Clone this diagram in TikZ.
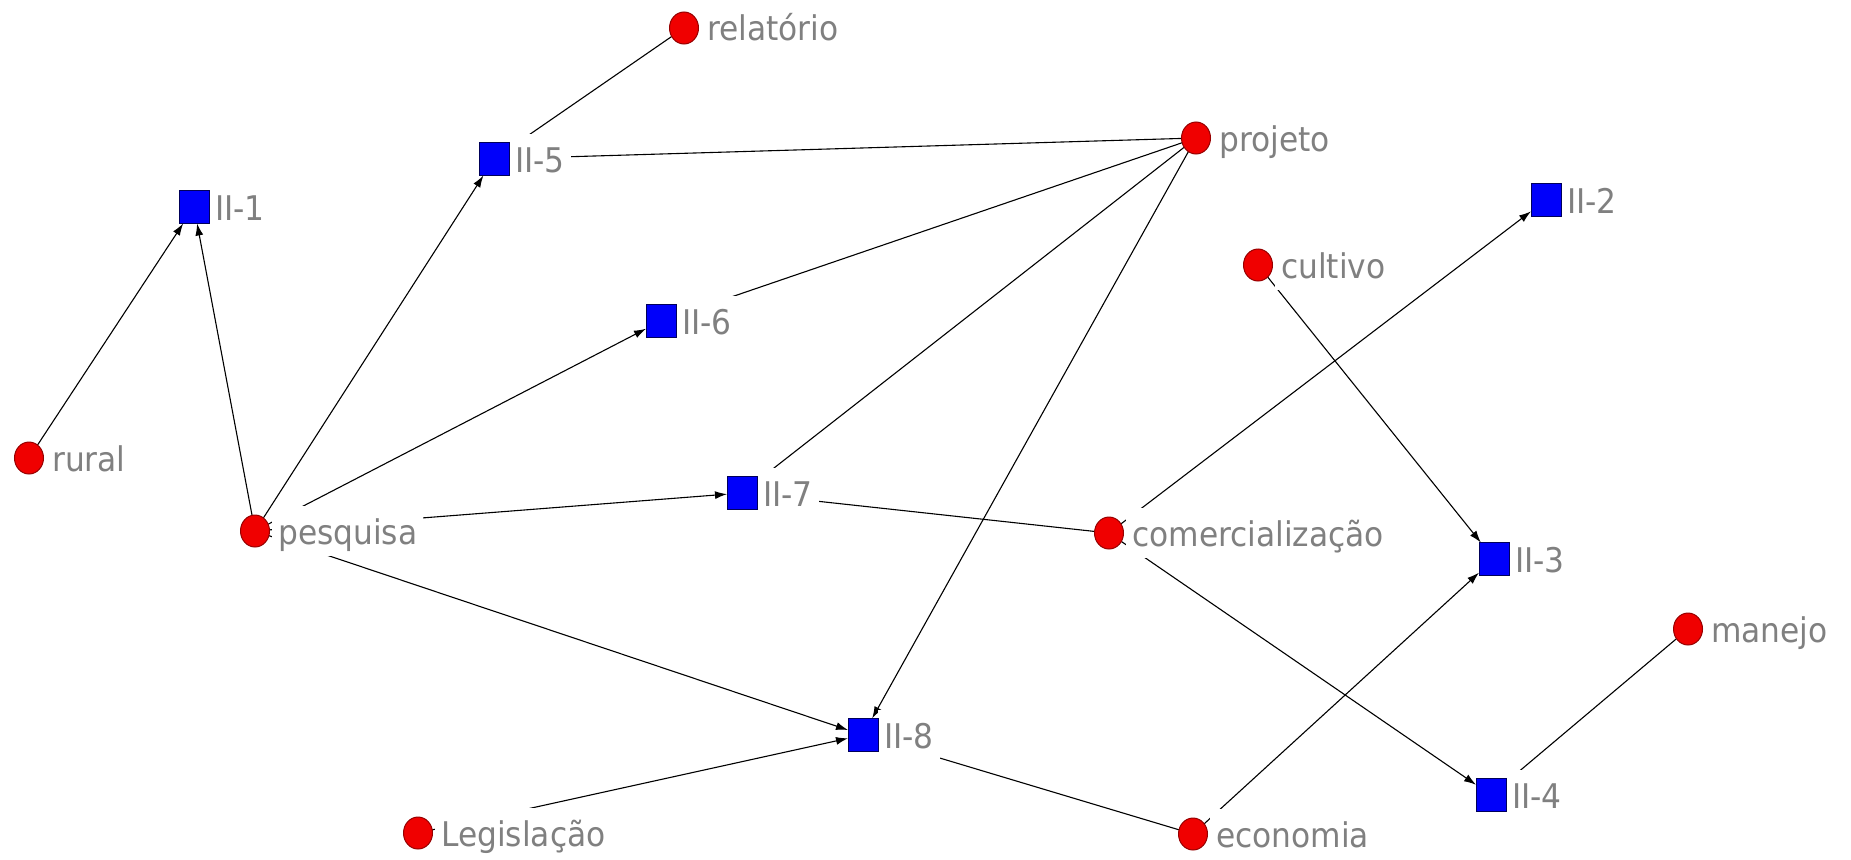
\documentclass[tikz,border=0pt]{standalone}
\usepackage{fontspec}
\newfontfamily\labfont{DejaVu Sans}[FakeStretch=0.92]
\usetikzlibrary{shapes.geometric,arrows.meta,backgrounds}
\definecolor{labgray}{RGB}{128,128,128}
\definecolor{cfill}{RGB}{240,0,0}
\definecolor{cdraw}{RGB}{150,0,0}
\definecolor{sfill}{RGB}{0,0,250}
\definecolor{sdraw}{RGB}{0,0,90}
\tikzset{
  circ/.style={ellipse, fill=cfill, draw=cdraw, line width=1pt, minimum width=29pt, minimum height=32pt, inner sep=0pt, outer sep=0pt},
  sq/.style={rectangle, fill=sfill, draw=sdraw, line width=1pt, minimum width=30pt, minimum height=33pt, inner sep=0pt, outer sep=0pt},
  lab/.style={anchor=west, fill=white, text=labgray, font=\labfont\fontsize{34}{34}\selectfont, text height=26pt, text depth=0pt, inner xsep=6pt, inner ysep=12pt},
  edge/.style={line width=1.1pt, black},
  arr/.style={edge, -{Latex[length=12pt,width=8pt]}},
}
\begin{document}
\begin{tikzpicture}[x=1pt,y=-1pt]
\useasboundingbox (0,0) rectangle (1851,859);
% labels
\node[lab] (relatorio-l) at (701,28) {relatório};
\node[lab] (projeto-l) at (1213,138) {projeto};
\node[lab] (cultivo-l) at (1275,265) {cultivo};
\node[lab] (rural-l) at (46,458) {rural};
\node[lab] (pesquisa-l) at (272,531) {pesquisa};
\node[lab] (comercializacao-l) at (1126,533) {comercialização};
\node[lab] (manejo-l) at (1705,629) {manejo};
\node[lab] (legislacao-l) at (435,833) {Legislação};
\node[lab] (economia-l) at (1210,834) {economia};
\node[lab] (ii1-l) at (209,207) {II-1};
\node[lab] (ii2-l) at (1561,200) {II-2};
\node[lab] (ii3-l) at (1509,559) {II-3};
\node[lab] (ii4-l) at (1506,795) {II-4};
\node[lab] (ii5-l) at (509,159) {II-5};
\node[lab] (ii6-l) at (676,321) {II-6};
\node[lab] (ii7-l) at (757,493) {II-7};
\node[lab] (ii8-l) at (878,735) {II-8};
% shapes
\node[circ] (relatorio) at (684,28) {};
\node[circ] (projeto) at (1196,138) {};
\node[circ] (cultivo) at (1258,265) {};
\node[circ] (rural) at (29,458) {};
\node[circ] (pesquisa) at (255,531) {};
\node[circ] (comercializacao) at (1109,533) {};
\node[circ] (manejo) at (1688,629) {};
\node[circ] (legislacao) at (418,833) {};
\node[circ] (economia) at (1193,834) {};
\node[sq] (ii1) at (194,207) {};
\node[sq] (ii2) at (1546,200) {};
\node[sq] (ii3) at (1494,559) {};
\node[sq] (ii4) at (1491,795) {};
\node[sq] (ii5) at (494,159) {};
\node[sq] (ii6) at (661,321) {};
\node[sq] (ii7) at (742,493) {};
\node[sq] (ii8) at (863,735) {};
% edges
\begin{pgfonlayer}{background}
\draw[arr] (rural) -- (ii1);
\draw[arr] (pesquisa) -- (ii1);
\draw[arr] (pesquisa) -- (ii5);
\draw[arr] (pesquisa) -- (ii6);
\draw[arr] (pesquisa) -- (ii7);
\draw[arr] (pesquisa) -- (ii8);
\draw[arr] (legislacao) -- (ii8);
\draw[arr] (projeto) -- (ii8);
\draw[arr] (comercializacao) -- (ii2);
\draw[arr] (cultivo) -- (ii3);
\draw[arr] (economia) -- (ii3);
\draw[arr] (comercializacao) -- (ii4);
\draw[edge] (ii5) -- (relatorio);
\draw[edge] (ii5) -- (projeto);
\draw[edge] (ii6) -- (projeto);
\draw[edge] (ii7) -- (projeto);
\draw[edge] (ii7) -- (comercializacao);
\draw[edge] (ii8) -- (economia);
\draw[edge] (ii4) -- (manejo);
\end{pgfonlayer}
\end{tikzpicture}
\end{document}
